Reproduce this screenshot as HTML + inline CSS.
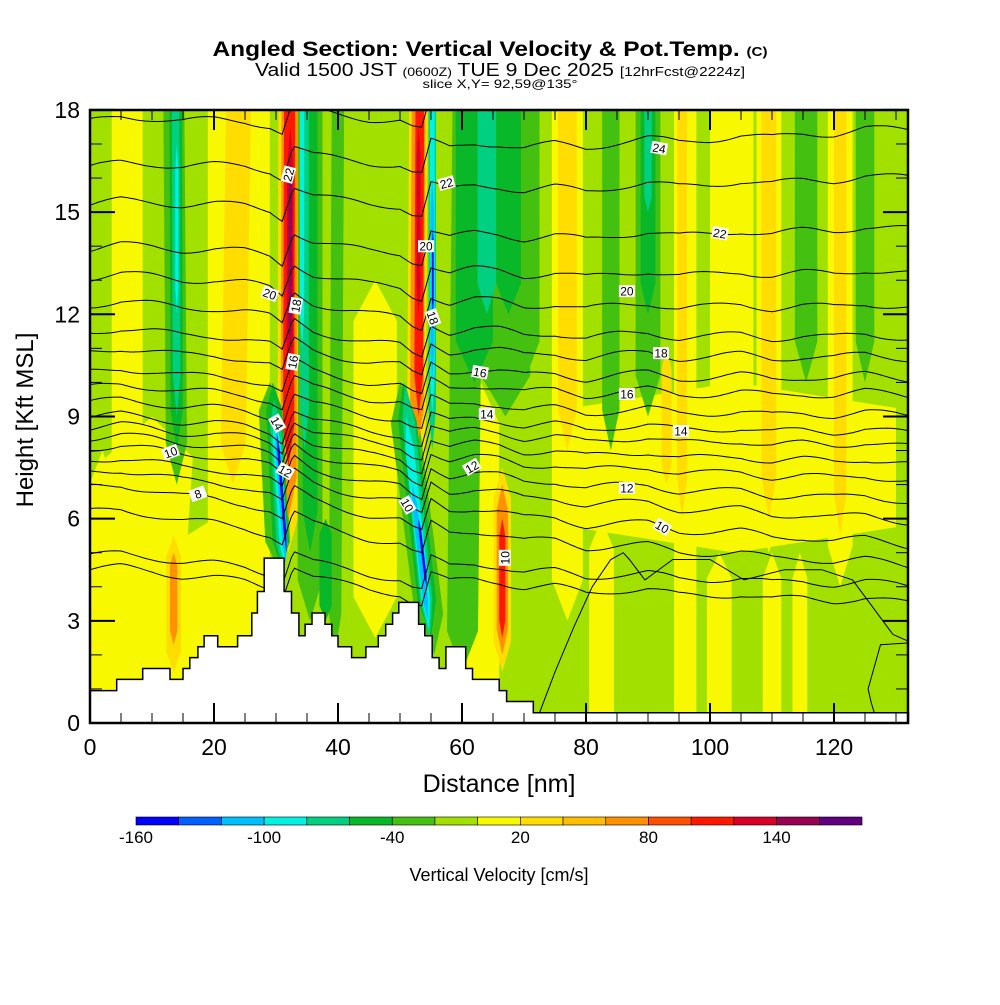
<!DOCTYPE html>
<html><head><meta charset="utf-8">
<style>
html,body{margin:0;padding:0;background:#fff;}
body{width:1000px;height:1000px;overflow:hidden;font-family:"Liberation Sans",sans-serif;}
svg text{font-family:"Liberation Sans",sans-serif;}
</style></head>
<body>
<svg id="chart" width="1000" height="1000" viewBox="0 0 1000 1000" xmlns="http://www.w3.org/2000/svg">
  <defs><clipPath id="plotclip"><rect x="90" y="110" width="818" height="613"/></clipPath></defs>
  <g>
    <text x="490" y="56" text-anchor="middle" font-size="21" font-weight="bold" textLength="555" lengthAdjust="spacingAndGlyphs">Angled Section: Vertical Velocity &amp; Pot.Temp. <tspan font-size="13">(C)</tspan></text>
    <text x="500" y="76" text-anchor="middle" font-size="18" textLength="490" lengthAdjust="spacingAndGlyphs">Valid 1500 JST <tspan font-size="12">(0600Z)</tspan> TUE 9 Dec 2025 <tspan font-size="13">[12hrFcst@2224z]</tspan></text>
    <text x="500" y="88" text-anchor="middle" font-size="12" textLength="155" lengthAdjust="spacingAndGlyphs">slice X,Y= 92,59@135°</text>
  </g>
  <g id="field" clip-path="url(#plotclip)"></g>
  <g id="contours" clip-path="url(#plotclip)"></g>
  <g id="terrain"></g>
  <g id="labels"></g>
  <g id="axes"></g>
  <g id="cbar"></g>
  <text x="499" y="792" text-anchor="middle" font-size="25">Distance [nm]</text>
  <text transform="translate(33,420) rotate(-90)" text-anchor="middle" font-size="24">Height [Kft MSL]</text>
  <text x="499" y="881" text-anchor="middle" font-size="18">Vertical Velocity [cm/s]</text>
</svg>
<script>
// ---- data ----
const cbarBins = [-160,-140,-120,-100,-80,-60,-40,-20,0,20,40,60,80,100,120,140,160];
const cbarColors = ["#0000ff","#0060ff","#00bfff","#00f2e0","#00d080","#08b828","#44c010","#a2e000","#f8f800","#ffdd00","#ffbf00","#ff9000","#ff5000","#ff1800","#d80028","#980050","#600080"];
const cbarTicks = [-160,-100,-40,20,80,140];
const xTicks = [0,20,40,60,80,100,120];
const yTicks = [0,3,6,9,12,15,18];
// stripe features: value (cm/s), bottom x (nm), bottom height (kft), top x, top height, half width (nm)
const stripeVal = [10,10,10,10,10,10,10,10,10,10,10,10,10,10,
  30,30,30,30,30,30,30,30,30,30,
  -30,-30,-30,-30,-30,-30,-30,-30,-30,-30,-30,-30,
  70,70,70,70,
  -50,-50,-50,-50,-50,-50,-50,-50,
  110,110,110,
  -70,-70,-70,-70,-70,-70,-70,
  130,130,150,
  -90,-90,-90,-90,-90,
  -110,-110,-110,
  -150,-150,-150,
  10,10,10,10];
const stripeXb = [24,7,20,63,46,77,96,103.5,109.5,121,104,6,2,84,
  23,77,93,95.5,109.5,121,52.5,32,66.5,13.5,
  14,35.5,39.5,60,67,84,90,115.5,125,55.5,30.5,70,
  32,52.7,66.5,13.5,
  14,35.5,62,90,67.5,55,31,38,
  32,53,66.5,
  14,34.6,64,90,55.2,54.8,31.2,
  32.2,53,32.3,
  14,34.2,55.2,54.7,31.4,
  55.2,54.5,31.6,
  55.3,54.3,31.7,
  82.5,101.5,110,114.5];
const stripeYb = [1,0.5,0,0.5,2.5,3,0.5,5,5,4,5,5,0,8,
  7,8,7,6,6,5.5,5,5,1.5,1.5,
  7,3,2,1.5,9,8,9,10,10,2,4.5,10,
  6,8,2,2.3,
  8,5,10,12,12,2.5,4.5,3,
  7.5,9,2.5,
  9,8,12,15,8,2.5,4.5,
  10,12,11,
  12,11,9,2.7,4.6,
  10,3,4.7,
  12,4,5,
  0,0,0,0];
const stripeXt = [24,10,20,63,46,77,96,103.5,109.5,121,104,6,2,84,
  24,77,93,95.5,109.5,121,53,32.2,66.5,13.5,
  13.5,35.5,40,61,67,84,90,115.5,125,50,29,70,
  32.2,53,66.5,13.5,
  13.8,35.5,62,90,67.5,50.5,29.5,38,
  32.2,53.2,66.5,
  13.8,34.6,64,90,55.2,50.8,29.7,
  32.3,53,32.3,
  14,34.2,55.2,51,29.8,
  55.2,52,30,
  55.3,53,30.2,
  82.5,101.5,110,114.5];
const stripeYt = [18,9,6,10,13,18,18,18,18,18,10,18,8,18,
  18,18,11,18,18,18,18,18,7.5,5.5,
  18,18,18,18,18,18,18,18,18,10,10,18,
  18,18,7,5,
  18,18,18,18,18,10,10,6,
  18,18,6,
  18,18,18,18,18,10,9.5,
  17.5,17.5,16.5,
  17,18,18,9,9,
  16,7,8.7,
  14.5,6,8.5,
  6,5,5,5];
const stripeW = [5,7,8,3,3.5,2.5,1.8,3.5,2,2,26,2.5,2.5,1.4,
  2,1.5,0.8,0.8,1.2,1,1.5,1.8,1.4,1.2,
  1.7,2,1,2.5,4,1.4,2,1.8,1.5,2.3,2,2.5,
  1.3,1.1,0.9,0.6,
  1,1.2,3,1.2,2,1.5,1.3,1,
  0.9,0.7,0.5,
  0.6,0.7,1.5,0.6,0.6,1,0.9,
  0.5,0.3,0.3,
  0.25,0.35,0.4,0.7,0.6,
  0.25,0.4,0.35,
  0.12,0.2,0.2,
  2,2,1.5,1.2];
// terrain step profile
const terrainBreaks = [4.3,8.5,12.9,15,16.1,17.4,18.4,20.6,23.8,26.1,27,28.1,31.3,32.5,33.7,34.7,35.8,37.9,39,40,42.2,44.5,46.5,47.7,48.8,49.8,53,54,55.2,56.3,57.4,60.6,61.7,66,67.2,71.5];
const terrainH = [0.95,1.28,1.6,1.28,1.6,1.92,2.24,2.56,2.24,2.56,3.23,3.86,4.84,3.86,3.23,2.56,2.9,3.23,2.9,2.56,2.24,1.92,2.24,2.56,2.9,3.23,3.54,2.9,2.56,1.92,1.6,2.24,1.6,1.28,0.95,0.63,0.3];
// potential temperature contours
const thetaLeftH = [4.5,4.9,6.2,6.93,7.37,7.72,8.07,8.37,8.66,8.96,9.4,9.84,10.3,10.9,11.48,12.27,13.07,13.9,15.2,16.3,17.65];
const thetaRightH = [3.5,4.0,4.6,5.2,5.9,6.5,7.1,7.6,8.1,8.5,9.0,9.6,10.1,10.7,11.3,12.2,13.2,14.5,16.0,17.4,18.6];
const pertX = [0,5,10,15,20,25,29,31,32.8,36,40,45,50,52,53.5,55,58,62,66,70,75,80,85,90,95,100,105,110,115,120,125,132];
const pertY = [0,0.15,0.05,-0.1,-0.1,-0.2,-0.4,-0.7,0.5,0.1,-0.1,-0.3,-0.4,-0.7,-0.8,0.4,0.1,0.25,0.2,0,0.1,-0.1,0.05,0.15,-0.05,0,0.1,-0.05,0.05,0,0.15,0];
const extraLineX = [72.5,75,78,81,84,86,87,89.5,91,94,100,105.5,112,118,123,129.5,132];
const extraLineY = [0.3,1.5,2.8,4.0,4.8,5,4.8,4.2,4.4,4.8,4.8,4.2,4.5,4.5,4.2,2.6,2.4];
const extraLine2X = [132,127.5,125.5,126,126.5];
const extraLine2Y = [2.35,2.3,1.0,0.6,0.3];
const labelText = ["22","22","20","18","20","18","16","16","14","14","12","12","10","8","10","10","24","22","20","18","16","14","12","10"];
const labelX = [32,57.5,29,33.2,54.2,55.3,32.7,62.9,30.2,64,31.5,61.6,13,17.4,51.2,66.9,91.8,101.6,86.6,92.1,86.6,95.3,86.6,92.3];
const labelY = [16.1,15.85,12.6,12.25,14.0,11.9,10.6,10.3,8.8,9.07,7.4,7.52,7.95,6.73,6.4,4.85,16.88,14.38,12.68,10.86,9.66,8.57,6.9,5.76];
const labelRot = [-75,-15,20,-80,0,70,-80,10,60,0,30,-30,-20,-20,60,-90,10,10,0,0,0,0,0,30];

// ---- scales ----
const X = v => 90 + v * 6.2;
const Y = v => 723 - v * 34.06;
const NS = "http://www.w3.org/2000/svg";
function mk(tag, attrs, parent){ const e=document.createElementNS(NS,tag); for(const k in attrs) e.setAttribute(k,attrs[k]); parent.appendChild(e); return e; }
function colorFor(v){ for(let i=0;i<16;i++){ if(v<cbarBins[i+1]) return cbarColors[i]; } return cbarColors[16]; }

// field
const field=document.getElementById('field');
const bg=mk('rect',{x:90,y:110,width:818,height:613,fill:"#a2e000"},field);


for(let i=0;i<stripeVal.length;i++){
  const xb=stripeXb[i], yb=stripeYb[i], xt=stripeXt[i], yt=stripeYt[i], w=stripeW[i];
  const L=yt-yb, tp=Math.min(L*0.15,1.2);
  const fx=h=>xb+(xt-xb)*(h-yb)/L;
  let p;
  if(yt>=18){ p=[[fx(yb),yb],[fx(yb+tp)+w,yb+tp],[fx(yt)+w,yt+0.5],[fx(yt)-w,yt+0.5],[fx(yb+tp)-w,yb+tp]]; }
  else p=[[fx(yb),yb],[fx(yb+tp)+w,yb+tp],[fx(yt-tp)+w,yt-tp],[fx(yt),yt],[fx(yt-tp)-w,yt-tp],[fx(yb+tp)-w,yb+tp]];
  if(yb<=0.5){ p[0]=[fx(yb),yb-1]; p.splice(1,0,[fx(yb)+w,yb-1]); p.push([fx(yb)-w,yb-1]); }
  const poly=mk('polygon',{points:p.map(q=>X(q[0]).toFixed(1)+","+Y(q[1]).toFixed(1)).join(" "),fill:colorFor(stripeVal[i])},field);
  
  
}

// contours
const cont=document.getElementById('contours');
function pert(x){ for(let i=0;i<pertX.length-1;i++){ if(x<=pertX[i+1]){ const t=(x-pertX[i])/(pertX[i+1]-pertX[i]); return pertY[i]+(pertY[i+1]-pertY[i])*t; } } return 0; }
for(let j=0;j<thetaLeftH.length;j++){
  let d="";
  for(let x=0;x<=132;x+=0.5){
    const base=thetaLeftH[j]+(thetaRightH[j]-thetaLeftH[j])*x/132;
    const wig=0.1*Math.sin(x*0.35+j*0.7);
    const h=base+pert(x)*0.8+wig;
    d+=(x===0?"M":"L")+X(x).toFixed(1)+","+Y(h).toFixed(1);
  }
  const pl=mk('path',{d:d,fill:"none",stroke:"#000","stroke-width":1},cont);
  
  
}
function polyline(xs,ys){
  const pl=mk('polyline',{points:xs.map((v,i)=>X(v).toFixed(1)+","+Y(ys[i]).toFixed(1)).join(" "),fill:"none",stroke:"#000","stroke-width":1},cont);
  
  
}
polyline(extraLineX,extraLineY);
polyline(extraLine2X,extraLine2Y);

// terrain
const ter=document.getElementById('terrain');
let tp="M"+X(0)+","+Y(0);
let cx=0;
for(let i=0;i<terrainH.length;i++){
  const nx=(i<terrainBreaks.length)?terrainBreaks[i]:132;
  tp+=" L"+X(cx).toFixed(1)+","+Y(terrainH[i]).toFixed(1)+" L"+X(nx).toFixed(1)+","+Y(terrainH[i]).toFixed(1);
  cx=nx;
}
tp+=" L"+X(132)+","+Y(0)+" Z";
const tpath=mk('path',{d:tp,fill:"#fff",stroke:"#000","stroke-width":1.5},ter);



// contour labels
const lab=document.getElementById('labels');
for(let i=0;i<labelText.length;i++){
  const g=mk('g',{transform:`translate(${X(labelX[i]).toFixed(1)},${Y(labelY[i]).toFixed(1)}) rotate(${labelRot[i]})`},lab);
  
  
  mk('rect',{x:-8,y:-6,width:16,height:12,fill:"#fff"},g);
  const t=mk('text',{x:0,y:4.5,"text-anchor":"middle","font-size":12,"font-family":"Liberation Serif, serif"},g);
  t.textContent=labelText[i];
}

// axes
const ax=document.getElementById('axes');
const fr=mk('rect',{x:90,y:110,width:818,height:613,fill:"none",stroke:"#000","stroke-width":2.5},ax);


for(let v=0;v<=130;v+=5){
  const major=v%20===0, len=major?20:10;
  mk('line',{x1:X(v),y1:723,x2:X(v),y2:723-len,stroke:"#000","stroke-width":major?2:1},ax);
  mk('line',{x1:X(v),y1:110,x2:X(v),y2:110+len,stroke:"#000","stroke-width":major?2:1},ax);
}
for(let v=0;v<=18;v++){
  const major=v%3===0, len=major?25:12;
  mk('line',{x1:90,y1:Y(v),x2:90+len,y2:Y(v),stroke:"#000","stroke-width":major?2:1},ax);
  mk('line',{x1:908,y1:Y(v),x2:908-len,y2:Y(v),stroke:"#000","stroke-width":major?2:1},ax);
}
xTicks.forEach(v=>{
  const t=mk('text',{x:X(v),y:755,"text-anchor":"middle","font-size":23},ax);
  
  
  t.textContent=v;
});
yTicks.forEach(v=>{
  const t=mk('text',{x:80,y:Y(v)+8,"text-anchor":"end","font-size":23},ax);
  
  
  t.textContent=v;
});

// colorbar
const cb=document.getElementById('cbar');
const cbX=v=>136+(v+160)*(726/340);
for(let i=0;i<17;i++){
  const x0=cbX(cbarBins[i]), x1=(i<16)?cbX(cbarBins[i+1]):862;
  const r=mk('rect',{x:x0,y:817,width:x1-x0,height:8,fill:cbarColors[i],stroke:"#000","stroke-width":0.6},cb);
  
  
}
cbarTicks.forEach(v=>{
  const t=mk('text',{x:cbX(v),y:843,"text-anchor":"middle","font-size":17},cb);
  
  
  t.textContent=v;
});
</script>
</body></html>
